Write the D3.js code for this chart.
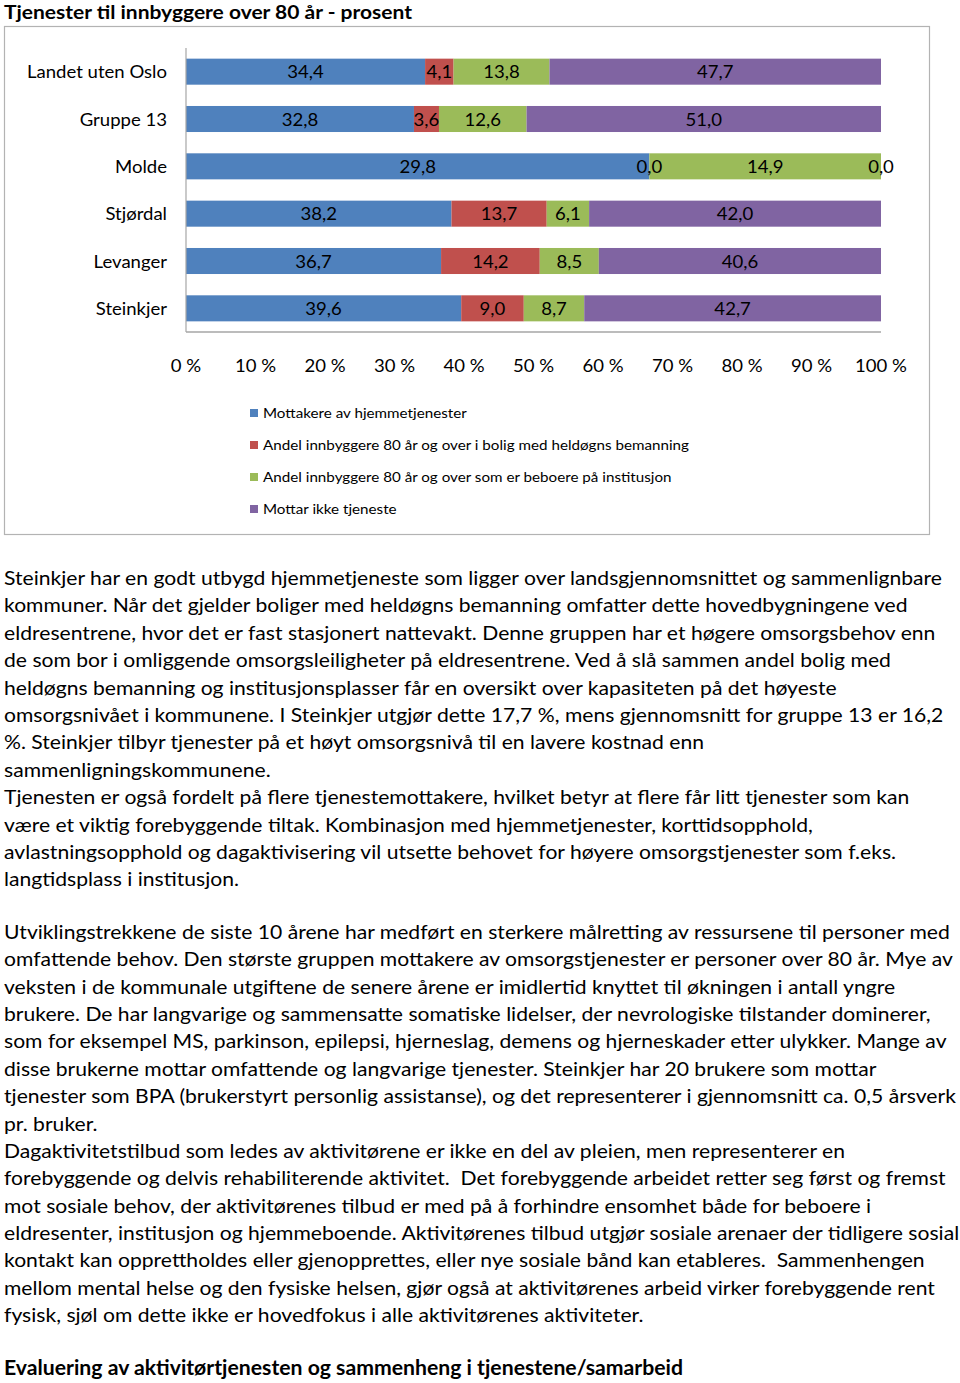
<!DOCTYPE html>
<html>
<head>
<meta charset="utf-8">
<script src="https://cdn.jsdelivr.net/npm/d3@7"></script>
<style>
  html, body { margin: 0; padding: 0; background: #fff; }
  svg { display: block; }
  text { font-family: Lato, "Open Sans", sans-serif; fill: #000; white-space: pre; }
</style>
</head>
<body>
<svg id="chart" width="960" height="1383"></svg>
<script>
// ---------- DATA ----------
const title = "Tjenester til innbyggere over 80 år - prosent";
const categories = ["Landet uten Oslo", "Gruppe 13", "Molde", "Stjørdal", "Levanger", "Steinkjer"];
const seriesNames = [
  "Mottakere av hjemmetjenester",
  "Andel innbyggere 80 år og over i bolig med heldøgns bemanning",
  "Andel innbyggere 80 år og over som er beboere på institusjon",
  "Mottar ikke tjeneste"
];
const hjemmetjenester = [34.4, 32.8, 29.8, 38.2, 36.7, 39.6];
const heldognsBolig   = [4.1, 3.6, 0.0, 13.7, 14.2, 9.0];
const institusjon     = [13.8, 12.6, 14.9, 6.1, 8.5, 8.7];
const ikkeTjeneste    = [47.7, 51.0, 0.0, 42.0, 40.6, 42.7];
const tickValues = [0, 10, 20, 30, 40, 50, 60, 70, 80, 90, 100];
const tickLabels = ["0 %", "10 %", "20 %", "30 %", "40 %", "50 %", "60 %", "70 %", "80 %", "90 %", "100 %"];
const colors = ["#4f81bd", "#c0504d", "#9bbb59", "#8064a2"];

const paragraph1 = [
  "Steinkjer har en godt utbygd hjemmetjeneste som ligger over landsgjennomsnittet og sammenlignbare",
  "kommuner. Når det gjelder boliger med heldøgns bemanning omfatter dette hovedbygningene ved",
  "eldresentrene, hvor det er fast stasjonert nattevakt. Denne gruppen har et høgere omsorgsbehov enn",
  "de som bor i omliggende omsorgsleiligheter på eldresentrene. Ved å slå sammen andel bolig med",
  "heldøgns bemanning og institusjonsplasser får en oversikt over kapasiteten på det høyeste",
  "omsorgsnivået i kommunene. I Steinkjer utgjør dette 17,7 %, mens gjennomsnitt for gruppe 13 er 16,2",
  "%. Steinkjer tilbyr tjenester på et høyt omsorgsnivå til en lavere kostnad enn",
  "sammenligningskommunene.",
  "Tjenesten er også fordelt på flere tjenestemottakere, hvilket betyr at flere får litt tjenester som kan",
  "være et viktig forebyggende tiltak. Kombinasjon med hjemmetjenester, korttidsopphold,",
  "avlastningsopphold og dagaktivisering vil utsette behovet for høyere omsorgstjenester som f.eks.",
  "langtidsplass i institusjon."
];
const paragraph2 = [
  "Utviklingstrekkene de siste 10 årene har medført en sterkere målretting av ressursene til personer med",
  "omfattende behov. Den største gruppen mottakere av omsorgstjenester er personer over 80 år. Mye av",
  "veksten i de kommunale utgiftene de senere årene er imidlertid knyttet til økningen i antall yngre",
  "brukere. De har langvarige og sammensatte somatiske lidelser, der nevrologiske tilstander dominerer,",
  "som for eksempel MS, parkinson, epilepsi, hjerneslag, demens og hjerneskader etter ulykker. Mange av",
  "disse brukerne mottar omfattende og langvarige tjenester. Steinkjer har 20 brukere som mottar",
  "tjenester som BPA (brukerstyrt personlig assistanse), og det representerer i gjennomsnitt ca. 0,5 årsverk",
  "pr. bruker.",
  "Dagaktivitetstilbud som ledes av aktivitørene er ikke en del av pleien, men representerer en",
  "forebyggende og delvis rehabiliterende aktivitet.  Det forebyggende arbeidet retter seg først og fremst",
  "mot sosiale behov, der aktivitørenes tilbud er med på å forhindre ensomhet både for beboere i",
  "eldresenter, institusjon og hjemmeboende. Aktivitørenes tilbud utgjør sosiale arenaer der tidligere sosial",
  "kontakt kan opprettholdes eller gjenopprettes, eller nye sosiale bånd kan etableres.  Sammenhengen",
  "mellom mental helse og den fysiske helsen, gjør også at aktivitørenes arbeid virker forebyggende rent",
  "fysisk, sjøl om dette ikke er hovedfokus i alle aktivitørenes aktiviteter."
];
const heading = "Evaluering av aktivitørtjenesten og sammenheng i tjenestene/samarbeid";

// ---------- HELPERS ----------
const svg = d3.select("#chart");
const fmt = v => d3.format(".1f")(v).replace(".", ",");

// horizontally condense text to mimic Calibri metrics
function condense(sel, f) {
  sel.each(function () {
    const w = this.getComputedTextLength();
    if (w > 0) {
      this.setAttribute("textLength", (w * f).toFixed(2));
      this.setAttribute("lengthAdjust", "spacingAndGlyphs");
    }
  });
}
function factorFor(str, size, weight, target) {
  const t = svg.append("text").attr("font-size", size).attr("font-weight", weight).text(str);
  const w = t.node().getComputedTextLength();
  t.remove();
  return target / w;
}

// ---------- TITLE ----------
const fTitle = factorFor(title, 19, "bold", 408);
svg.append("text").attr("x", 4).attr("y", 19).attr("font-size", 19).attr("font-weight", "bold")
  .text(title).call(condense, fTitle);

// ---------- CHART FRAME ----------
svg.append("rect").attr("x", 4.5).attr("y", 26.5).attr("width", 925).attr("height", 508)
  .attr("fill", "#fff").attr("stroke", "#b3b3b3").attr("stroke-width", 1.2);

const x = d3.scaleLinear().domain([0, 100]).range([186, 881]);
const y = d3.scaleBand().domain(categories).range([48, 332]).paddingInner(0.45).paddingOuter(0.225);

const rows = categories.map((c, i) => ({
  cat: c,
  s0: hjemmetjenester[i], s1: heldognsBolig[i], s2: institusjon[i], s3: ikkeTjeneste[i]
}));
const keys = ["s0", "s1", "s2", "s3"];
const stack = d3.stack().keys(keys).offset(d3.stackOffsetExpand);
const layers = stack(rows);

const fChart = factorFor("Landet uten Oslo", 18, "normal", 140);

const gBars = svg.append("g");
layers.forEach((layer, li) => {
  gBars.selectAll(null).data(layer).join("rect")
    .attr("x", d => x(d[0] * 100))
    .attr("y", d => y(d.data.cat))
    .attr("width", d => Math.max(0, x(d[1] * 100) - x(d[0] * 100)))
    .attr("height", y.bandwidth())
    .attr("fill", colors[li]);
});
// axes lines
svg.append("line").attr("x1", 186).attr("x2", 186).attr("y1", 48).attr("y2", 332)
  .attr("stroke", "#a6a6a6").attr("stroke-width", 1.2);
svg.append("line").attr("x1", 186).attr("x2", 881).attr("y1", 332).attr("y2", 332)
  .attr("stroke", "#a6a6a6").attr("stroke-width", 1.6);

// bar labels
layers.forEach((layer, li) => {
  svg.append("g").selectAll(null).data(layer).join("text")
    .attr("x", d => (x(d[0] * 100) + x(d[1] * 100)) / 2)
    .attr("y", d => y(d.data.cat) + y.bandwidth() / 2 + 6.5)
    .attr("text-anchor", "middle")
    .attr("font-size", 18)
    .text(d => fmt(d.data[keys[li]]))
    .call(condense, fChart);
});

// category axis labels
svg.append("g").selectAll(null).data(categories).join("text")
  .attr("x", 167).attr("y", d => y(d) + y.bandwidth() / 2 + 6.5)
  .attr("text-anchor", "end").attr("font-size", 18)
  .text(d => d).call(condense, fChart);

// x tick labels
svg.append("g").selectAll(null).data(tickValues).join("text")
  .attr("x", d => x(d)).attr("y", 371.5)
  .attr("text-anchor", "middle").attr("font-size", 18)
  .text((d, i) => tickLabels[i]).call(condense, fChart);

// legend
const fLeg = factorFor(seriesNames[1], 14, "normal", 426);
const leg = svg.append("g").selectAll(null).data(seriesNames).join("g")
  .attr("transform", (d, i) => `translate(0,${413 + i * 32})`);
leg.append("rect").attr("x", 250).attr("y", -4).attr("width", 8).attr("height", 8)
  .attr("fill", (d, i) => colors[i]);
leg.append("text").attr("x", 263).attr("y", 5).attr("font-size", 14)
  .text(d => d).call(condense, fLeg);

// ---------- BODY TEXT ----------
const bodySize = 20;
const fBody = factorFor(paragraph1[0], bodySize, "normal", 938);
const lh = 27.4;
svg.append("g").selectAll(null).data(paragraph1).join("text")
  .attr("x", 4).attr("y", (d, i) => 585 + i * lh)
  .attr("font-size", bodySize).text(d => d).call(condense, fBody);
svg.append("g").selectAll(null).data(paragraph2).join("text")
  .attr("x", 4).attr("y", (d, i) => 939 + i * 27.36)
  .attr("font-size", bodySize).text(d => d).call(condense, fBody);

const fHead = factorFor(heading, bodySize, "bold", 679);
svg.append("text").attr("x", 4).attr("y", 1375).attr("font-size", bodySize).attr("font-weight", "bold")
  .text(heading).call(condense, fHead);
</script>
</body>
</html>
